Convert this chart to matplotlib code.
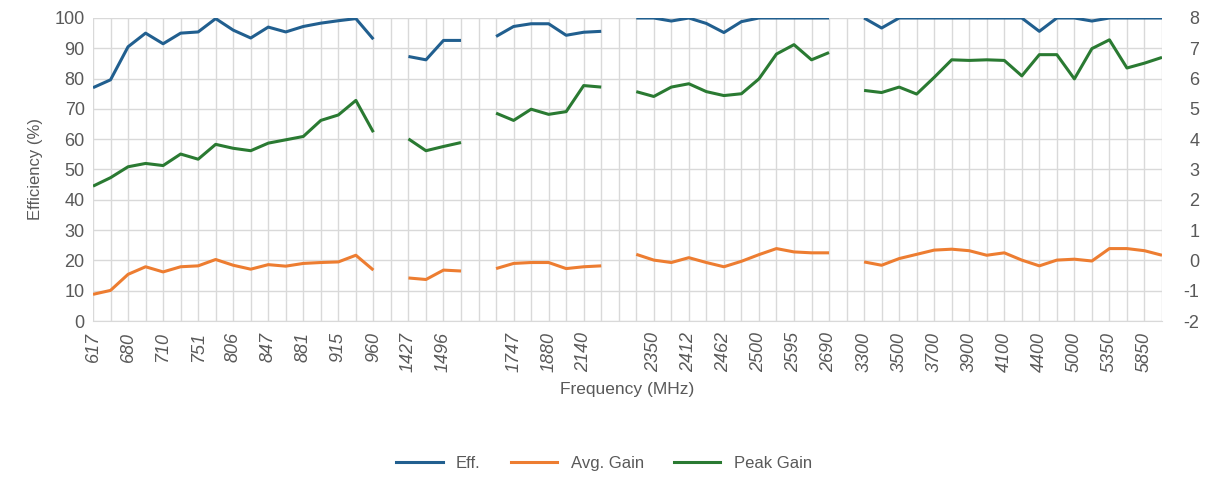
import numpy as np
import matplotlib
matplotlib.use("Agg")
import matplotlib.pyplot as plt
from matplotlib.lines import Line2D

plt.rcParams['font.family'] = ['Liberation Sans', 'DejaVu Sans']
plt.rcParams['axes.unicode_minus'] = False

nan = np.nan

# one label every second category, blank where the band gap sits
tick_labels = ["617", "680", "710", "751", "806", "847", "881", "915", "960",
               "1427", "1496", "", "1747", "1880", "2140", "",
               "2350", "2412", "2462", "2500", "2595", "2690",
               "3300", "3500", "3700", "3900", "4100", "4400", "5000", "5350", "5850"]

# efficiency in %
eff = [77, 79.6, 90.5, 95, 91.5, 95, 95.4, 99.8, 96, 93.4, 97, 95.4, 97.2, 98.3, 99.1, 99.8, 93,
       nan,
       87.3, 86.2, 92.6, 92.6,
       nan,
       93.9, 97.2, 98.1, 98.1, 94.3, 95.3, 95.6,
       nan,
       100, 100, 99, 100, 98.2, 95.2, 98.8, 100, 100, 100, 100, 100,
       nan,
       100, 96.7, 100, 100, 100, 100, 100, 100, 100, 100, 95.6, 100, 100, 99, 100, 100, 100, 100]

# gains in dBi
avg_gain = [-1.12, -0.99, -0.46, -0.21, -0.38, -0.21, -0.18, 0.03, -0.16, -0.29, -0.14, -0.19,
            -0.10, -0.07, -0.05, 0.17, -0.32,
            nan,
            -0.58, -0.63, -0.32, -0.35,
            nan,
            -0.27, -0.10, -0.07, -0.07, -0.27, -0.21, -0.18,
            nan,
            0.20, 0.01, -0.07, 0.09, -0.07, -0.21, -0.03, 0.19, 0.39, 0.28, 0.25, 0.25,
            nan,
            -0.05, -0.16, 0.06, 0.20, 0.34, 0.37, 0.32, 0.17, 0.25, 0.01, -0.18, 0.01, 0.04,
            -0.02, 0.39, 0.39, 0.32, 0.17]

peak_gain = [2.45, 2.73, 3.09, 3.20, 3.13, 3.51, 3.34, 3.83, 3.70, 3.62, 3.87, 3.98, 4.09,
             4.62, 4.80, 5.28, 4.23,
             nan,
             4.01, 3.62, 3.76, 3.89,
             nan,
             4.86, 4.62, 4.99, 4.82, 4.91, 5.77, 5.72,
             nan,
             5.57, 5.41, 5.72, 5.83, 5.57, 5.44, 5.50, 5.99, 6.81, 7.12, 6.62, 6.86,
             nan,
             5.61, 5.54, 5.72, 5.49, 6.04, 6.62, 6.60, 6.62, 6.60, 6.09, 6.79, 6.79, 5.99,
             6.99, 7.28, 6.35, 6.51, 6.70]

c_eff = '#215f8f'
c_avg = '#ed7d31'
c_peak = '#2a7a32'
grid_c = '#d9d9d9'
text_c = '#595959'

x = np.arange(len(eff))

fig = plt.figure(figsize=(12.15, 4.79), dpi=100)
ax = fig.add_axes([93 / 1215, 1 - 321 / 479, (1162 - 93) / 1215, (321 - 18) / 479])
ax2 = ax.twinx()

ax.plot(x, eff, color=c_eff, lw=2.2, solid_capstyle='butt')
ax2.plot(x, avg_gain, color=c_avg, lw=2.2, solid_capstyle='butt')
ax2.plot(x, peak_gain, color=c_peak, lw=2.2, solid_capstyle='butt')

ax.set_xlim(0, len(eff) - 1)
ax.set_ylim(0, 100)
ax2.set_ylim(-2, 8)
ax.set_yticks(np.arange(0, 101, 10))
ax2.set_yticks(np.arange(-2, 9, 1))

ax.set_xticks(x, minor=True)
ax.set_xticks(x[::2])
ax.set_xticklabels(tick_labels, rotation=90, fontsize=13, color=text_c, style='italic')
ax.grid(True, which='both', axis='x', color=grid_c, lw=1)
ax.grid(True, which='major', axis='y', color=grid_c, lw=1)
ax.set_axisbelow(True)
ax.tick_params(which='both', length=0)
ax.tick_params(axis='x', pad=8)
ax.tick_params(axis='y', labelsize=13, labelcolor=text_c, pad=6)
ax2.tick_params(length=0, labelsize=13, labelcolor=text_c, pad=27)
for lbl in ax2.get_yticklabels():
    lbl.set_horizontalalignment('right')

for a in (ax, ax2):
    for s in a.spines.values():
        s.set_visible(False)
ax.spines['bottom'].set_visible(True)
ax.spines['bottom'].set_color(grid_c)

ax.set_ylabel("Efficiency (%)", fontsize=12, color=text_c, labelpad=8)
ax.set_xlabel("Frequency (MHz)", fontsize=12.5, color=text_c, labelpad=7)

handles = [Line2D([], [], color=c_eff, lw=2.2),
           Line2D([], [], color=c_avg, lw=2.2),
           Line2D([], [], color=c_peak, lw=2.2)]
fig.legend(handles, ["Eff.", "Avg. Gain", "Peak Gain"], loc='center', ncol=3,
           bbox_to_anchor=(0.497, 0.033), frameon=False, fontsize=12,
           handlelength=2.8, columnspacing=1.8, labelcolor=text_c)

fig.savefig("out.png", dpi=100)
